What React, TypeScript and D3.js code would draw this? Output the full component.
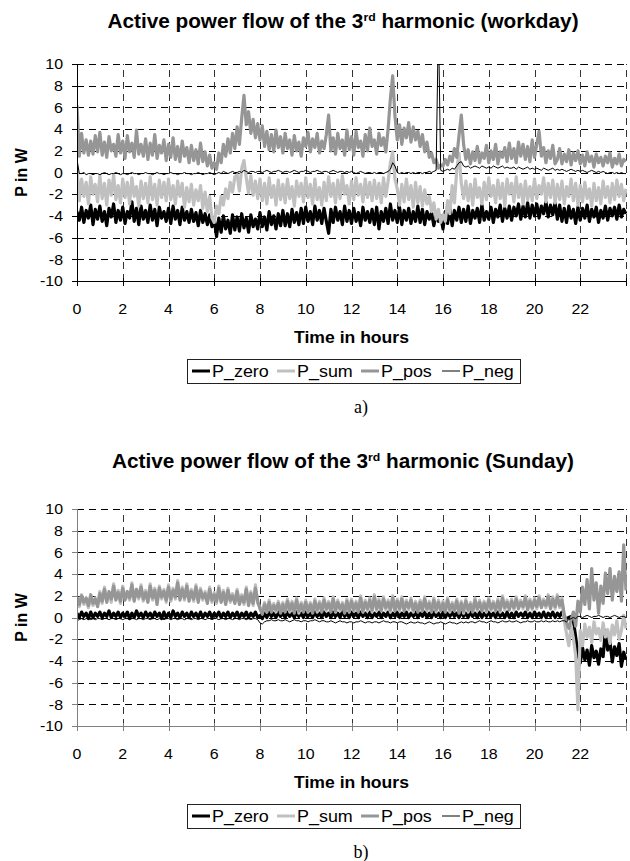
import * as d3 from 'd3';

// time grid, one reading every 6 minutes
const HOURS = d3.range(0, 241).map(i => i / 10);
const X_TICKS = [0, 2, 4, 6, 8, 10, 12, 14, 16, 18, 20, 22];
const X_GRID = [2, 4, 6, 8, 10, 12, 14, 16, 18, 20, 22, 24];
const Y_TICKS = [-10, -8, -6, -4, -2, 0, 2, 4, 6, 8, 10];
const SERIES_NAMES = ['P_zero', 'P_sum', 'P_pos', 'P_neg'];

// workday
const pZeroWorkday = [
  -3.6, -4.4, -3.2, -4.6, -3.5, -4.2, -3.0, -4.8, -3.4, -4.3,
  -3.1, -4.5, -3.6, -4.9, -3.3, -4.1, -2.9, -4.6, -3.5, -4.4,
  -3.2, -4.7, -3.6, -4.2, -2.7, -4.5, -3.3, -4.8, -3.1, -4.3,
  -3.5, -4.6, -3.0, -4.4, -3.4, -4.9, -3.2, -4.2, -3.6, -4.5,
  -3.3, -4.7, -3.1, -4.3, -3.5, -4.8, -3.2, -4.4, -3.6, -4.6,
  -3.4, -4.5, -3.7, -4.9, -3.5, -4.6, -3.8, -4.8, -3.9, -5.0,
  -4.3, -5.9, -4.2, -5.5, -4.0, -5.2, -4.4, -5.6, -3.9, -5.3,
  -4.1, -5.4, -3.8, -5.1, -4.2, -5.5, -3.9, -5.0, -4.3, -5.2,
  -3.7, -5.0, -4.1, -5.3, -3.6, -4.8, -4.0, -5.2, -3.8, -4.9,
  -3.5, -4.9, -3.8, -5.0, -3.4, -4.6, -3.7, -4.8, -3.3, -4.7,
  -3.2, -4.5, -3.6, -4.8, -3.1, -4.4, -3.5, -4.7, -3.3, -4.5,
  -5.6, -3.4, -4.6, -3.2, -4.4, -3.6, -4.8, -3.1, -4.5, -3.5,
  -4.7, -3.3, -4.5, -3.7, -4.9, -3.2, -4.4, -3.6, -4.6, -3.4,
  -4.8, -3.2, -5.2, -3.6, -4.5, -3.3, -4.7, -2.9, -4.4, -3.5,
  -4.6, -3.2, -4.8, -3.5, -4.4, -3.3, -4.7, -3.6, -4.5, -3.1,
  -4.6, -3.4, -4.8, -3.6, -4.3, -3.7, -4.9, -3.8, -4.5, -4.0,
  -5.2, -3.6, -4.7, -3.3, -4.9, -3.5, -4.4, -3.2, -4.6, -3.4,
  -4.5, -3.1, -4.7, -3.5, -4.2, -3.3, -4.6, -3.0, -4.4, -3.6,
  -4.3, -3.2, -4.6, -3.4, -4.1, -3.0, -4.5, -3.3, -4.2, -3.1,
  -4.4, -3.2, -4.0, -2.9, -4.3, -3.1, -4.1, -2.8, -4.2, -3.0,
  -4.0, -2.9, -4.2, -3.1, -3.8, -2.7, -4.1, -3.0, -3.9, -2.8,
  -4.3, -3.0, -4.5, -3.3, -4.6, -3.1, -4.2, -3.4, -4.7, -3.2,
  -4.4, -3.3, -4.2, -3.0, -4.5, -3.4, -4.1, -3.2, -4.6, -3.5,
  -4.2, -3.1, -4.4, -3.3, -4.0, -3.2, -4.3, -3.0, -4.1, -3.4,
  -3.8,
];
const pSumWorkday = [
  0.5, -2.6, -0.6, -2.2, -0.9, -2.9, -0.4, -2.0, -1.1, -2.7,
  -0.3, -2.4, -1.0, -3.0, -0.7, -2.1, -0.2, -2.5, -1.2, -2.8,
  -0.6, -2.3, -0.9, -2.9, -0.5, -2.2, -1.3, -3.1, -0.8, -2.4,
  -1.0, -2.8, -0.4, -2.5, -1.1, -3.0, -0.7, -2.3, -0.9, -2.6,
  -0.6, -2.5, -1.2, -2.9, -0.8, -2.2, -1.0, -3.2, -1.4, -2.7,
  -1.1, -3.0, -1.6, -2.6, -1.2, -3.3, -1.8, -3.6, -2.2, -4.2,
  -4.6, -3.1, -3.8, -2.2, -3.0, -1.5, -2.4, -0.9, -1.8, -0.4,
  -0.2, -1.7, 0.4, 1.1, -0.5, -1.9, -0.3, -2.1, -0.8, -2.4,
  -0.6, -2.6, -1.0, -2.9, -0.5, -2.3, -1.2, -3.0, -0.7, -2.5,
  -1.1, -2.8, -0.6, -2.4, -1.3, -3.1, -0.8, -2.2, -1.0, -2.7,
  -0.5, -2.3, -1.1, -2.9, -0.6, -2.5, -1.4, -3.0, -0.9, -2.6,
  -0.4, -2.2, -1.0, -2.8, -0.7, -2.4, -0.3, -2.0, -1.2, -2.9,
  -0.8, -2.5, -0.5, -2.1, -1.1, -2.7, -0.6, -2.3, -0.9, -2.6,
  -0.7, -2.4, -1.0, -2.8, -0.5, -2.2, -0.8, 0.9, 1.9, -0.6,
  -1.5, -3.0, -1.1, -2.7, -0.6, -2.5, -1.2, -3.2, -0.9, -2.8,
  -1.3, -3.1, -1.6, -2.9, -2.2, -3.6, -2.8, -4.3, -3.4, -4.6,
  -3.9, -4.5, -2.6, -3.8, -1.2, -2.8, 0.2, 1.8, -1.0, -2.4,
  -0.8, -2.6, -1.1, -3.0, -0.6, -2.3, -1.4, -2.9, -0.9, -2.5,
  -0.5, -2.2, -1.2, -2.8, -0.7, -2.4, -1.0, -3.1, -0.6, -2.0,
  -1.0, -2.7, -0.4, -2.3, -1.1, -2.9, -0.8, -2.5, -1.3, -2.6,
  -0.6, -2.4, -1.2, -2.0, -0.5, -2.7, -1.0, -2.3, -0.7, -2.8,
  -1.1, -2.5, -0.8, -2.9, -1.3, -2.2, -0.6, -2.6, -1.0, -3.0,
  -1.2, -2.7, -0.9, -2.4, -1.5, -3.1, -1.0, -2.6, -1.4, -2.9,
  -0.8, -2.3, -1.3, -2.8, -1.0, -2.5, -0.7, -2.2, -1.1, -2.6,
  -1.5,
];
const pPosWorkday = [
  6.2, 1.5, 3.6, 1.8, 3.0, 1.6, 2.9, 1.7, 3.4, 1.9,
  3.7, 1.6, 2.8, 1.4, 3.3, 2.0, 2.6, 1.5, 3.5, 1.8,
  2.9, 1.3, 3.4, 1.9, 2.7, 1.4, 3.9, 1.7, 2.6, 1.5,
  3.1, 1.2, 2.7, 1.6, 3.5, 1.3, 2.5, 1.8, 3.0, 1.1,
  2.6, 1.4, 3.2, 1.2, 2.4, 1.0, 2.9, 1.5, 2.3, 0.9,
  2.5, 1.1, 2.1, 0.8, 2.7, 1.0, 1.9, 0.6, 1.6, 0.4,
  0.9, 0.3, 1.8, 0.9, 2.6, 1.5, 3.1, 1.8, 3.6, 2.2,
  4.2, 2.6, 5.0, 7.1, 4.4, 5.6, 3.6, 4.9, 3.2, 4.5,
  3.0, 4.3, 2.4, 3.8, 2.1, 3.5, 1.9, 3.9, 2.3, 3.3,
  1.8, 3.6, 2.2, 3.0, 1.6, 3.4, 2.0, 2.8, 1.5, 3.2,
  2.4, 3.7, 1.9, 3.1, 2.3, 3.6, 1.8, 2.9, 2.2, 3.5,
  5.3, 2.0, 3.2, 1.7, 3.6, 2.2, 3.0, 1.6, 3.9, 2.1,
  3.3, 1.6, 3.8, 2.3, 2.9, 1.5, 3.5, 2.0, 4.1, 2.4,
  3.0, 1.7, 3.6, 2.5, 3.2, 1.9, 4.0, 6.8, 8.9, 5.2,
  3.0, 4.4, 2.6, 4.1, 3.2, 4.6, 2.8, 4.2, 3.0, 3.8,
  2.4, 3.5, 1.9, 2.8, 1.4, 1.8, 0.9, 1.2, 0.4, 0.7,
  0.6, 1.2, 0.7, 1.5, 1.0, 2.2, 1.4, 3.4, 5.3, 2.6,
  1.2, 2.1, 0.8, 1.9, 1.1, 2.4, 0.9, 1.8, 1.3, 2.5,
  0.9, 2.0, 1.2, 2.6, 0.8, 1.9, 1.4, 2.3, 1.0, 2.7,
  1.3, 2.2, 0.9, 2.8, 1.5, 2.6, 1.2, 2.4, 1.0, 3.0,
  1.4, 2.6, 3.8, 1.5, 2.3, 0.9, 2.0, 1.3, 2.5, 0.8,
  1.2, 2.2, 0.8, 1.7, 1.0, 2.1, 0.7, 1.8, 1.1, 2.0,
  0.8, 1.6, 0.6, 1.9, 1.0, 1.5, 0.5, 1.7, 0.9, 1.4,
  0.6, 1.5, 0.9, 1.8, 0.5, 1.3, 0.8, 1.7, 0.6, 1.2,
  1.0,
];
const pNegWorkday = [
  1.2, -0.1, -0.1, 0.0, -0.2, -0.1, -0.1, -0.2, -0.1, -0.1,
  -0.2, -0.1, 0.0, -0.1, -0.2, -0.1, -0.1, 0.0, -0.1, -0.2,
  -0.1, -0.1, -0.2, -0.1, 0.0, -0.1, -0.1, -0.2, -0.1, -0.1,
  0.0, -0.1, -0.1, -0.2, -0.1, 0.0, -0.1, -0.1, -0.2, -0.1,
  -0.1, 0.0, -0.1, -0.1, -0.2, -0.1, -0.1, 0.0, -0.1, -0.1,
  -0.2, -0.1, -0.1, 0.0, -0.1, -0.2, -0.1, -0.1, 0.0, -0.1,
  -0.2, -0.1, 0.0, -0.1, 0.1, 0.0, -0.1, 0.0, 0.1, 0.0,
  0.0, 0.1, 0.0, 0.2, 0.1, 0.0, 0.1, 0.1, 0.0, 0.1,
  0.1, 0.0, 0.1, 0.2, 0.1, 0.0, 0.1, 0.1, 0.2, 0.1,
  0.0, 0.1, 0.1, 0.0, 0.1, 0.2, 0.1, 0.0, 0.1, 0.1,
  0.2, 0.1, 0.0, 0.1, 0.1, 0.2, 0.1, 0.0, 0.1, 0.1,
  0.0, 0.1, 0.2, 0.1, 0.0, 0.1, 0.1, 0.0, 0.1, 0.0,
  0.1, 0.0, -0.1, 0.0, 0.1, 0.0, -0.1, 0.0, 0.0, -0.1,
  0.0, -0.1, 0.0, 0.0, -0.1, 0.0, 0.1, 0.3, 0.9, 0.6,
  0.0, -0.1, 0.0, -0.1, 0.0, 0.0, -0.1, 0.0, -0.1, 0.0,
  0.0, -0.1, 0.0, 0.0, 0.1, 0.0, 0.1, 0.2, 14.0, 0.2,
  0.1, 0.2, 0.3, 0.2, 0.4, 0.3, 0.6, 0.9, 1.0, 0.6,
  0.5, 0.6, 0.4, 0.5, 0.6, 0.5, 0.4, 0.6, 0.5, 0.4,
  0.5, 0.4, 0.6, 0.5, 0.4, 0.5, 0.6, 0.4, 0.5, 0.4,
  0.4, 0.5, 0.3, 0.5, 0.4, 0.3, 0.4, 0.5, 0.3, 0.4,
  0.3, 0.4, 0.3, 0.2, 0.4, 0.3, 0.2, 0.3, 0.4, 0.2,
  0.3, 0.2, 0.3, 0.2, 0.1, 0.2, 0.3, 0.2, 0.1, 0.2,
  0.1, 0.2, 0.1, 0.0, 0.1, 0.2, 0.1, 0.0, 0.1, 0.0,
  0.1, 0.0, -0.1, 0.0, 0.0, -0.1, 0.0, -0.1, 0.0, -0.1,
  -0.1,
];

// Sunday
const pZeroSunday = [
  0.4, 0.0, 0.5, 0.1, 0.4, -0.1, 0.5, 0.0, 0.4, 0.1,
  0.5, 0.0, 0.4, 0.1, 0.6, 0.0, 0.4, 0.1, 0.5, 0.0,
  0.4, 0.1, 0.5, -0.1, 0.4, 0.0, 0.6, 0.1, 0.4, 0.0,
  0.5, 0.1, 0.4, 0.0, 0.5, 0.1, 0.4, -0.1, 0.5, 0.0,
  0.4, 0.0, 0.6, 0.1, 0.4, 0.0, 0.5, 0.1, 0.4, 0.0,
  0.5, 0.1, 0.4, 0.0, 0.5, 0.0, 0.4, 0.1, 0.5, 0.0,
  0.4, 0.1, 0.5, 0.0, 0.4, 0.1, 0.5, 0.0, 0.4, 0.1,
  0.5, 0.0, 0.4, 0.1, 0.5, 0.0, 0.4, 0.1, 0.5, 0.0,
  0.2, -0.1, 0.4, 0.0, 0.5, 0.1, 0.4, 0.0, 0.5, 0.1,
  0.4, 0.0, 0.5, 0.1, 0.4, 0.0, 0.5, 0.1, 0.4, 0.0,
  0.5, 0.1, 0.4, 0.0, 0.5, 0.1, 0.4, 0.0, 0.5, 0.1,
  0.4, 0.0, 0.5, 0.1, 0.4, 0.0, 0.6, 0.1, 0.4, 0.0,
  0.5, 0.1, 0.4, 0.0, 0.5, 0.1, 0.4, 0.0, 0.5, 0.0,
  0.4, 0.1, 0.5, 0.0, 0.4, 0.1, 0.5, 0.0, 0.4, 0.1,
  0.5, 0.0, 0.4, 0.1, 0.5, 0.0, 0.4, 0.1, 0.5, 0.0,
  0.4, 0.1, 0.5, 0.0, 0.4, 0.0, 0.5, 0.1, 0.4, 0.0,
  0.5, 0.0, 0.4, 0.1, 0.5, 0.1, 0.4, 0.0, 0.5, 0.1,
  0.4, 0.0, 0.5, 0.1, 0.4, 0.0, 0.5, 0.0, 0.4, 0.1,
  0.5, 0.1, 0.4, 0.0, 0.5, 0.1, 0.4, 0.0, 0.5, 0.0,
  0.4, 0.0, 0.5, 0.1, 0.4, 0.1, 0.5, 0.0, 0.4, 0.0,
  0.5, 0.1, 0.4, 0.0, 0.5, 0.0, 0.4, 0.1, 0.5, 0.0,
  0.4, 0.1, 0.5, 0.0, -0.1, 0.0, 0.1, -0.3, -1.8, -3.4,
  -4.2, -2.8, -3.9, -3.0, -4.4, -2.6, -3.7, -3.1, -4.3, -2.9,
  -3.6, -1.2, -3.0, -2.2, -4.1, -2.7, -3.5, -2.4, -4.5, -3.2,
  -3.9,
];
const pSumSunday = [
  1.7, 1.0, 2.1, 1.2, 1.6, 0.9, 2.0, 1.1, 1.8, 1.2,
  2.4, 1.3, 2.8, 1.6, 2.2, 1.4, 3.1, 1.8, 2.5, 1.3,
  2.9, 1.8, 2.2, 1.6, 3.2, 1.7, 2.4, 1.7, 3.0, 1.5,
  2.5, 1.6, 3.1, 1.6, 2.7, 1.4, 2.9, 1.7, 2.6, 1.4,
  3.0, 1.5, 2.7, 1.7, 3.4, 1.8, 2.8, 1.6, 3.1, 1.7,
  2.6, 1.5, 3.0, 1.6, 2.7, 1.6, 2.4, 1.5, 2.8, 1.4,
  2.3, 1.3, 2.9, 1.6, 2.5, 1.4, 2.7, 1.4, 2.2, 1.5,
  2.6, 1.4, 2.1, 1.2, 2.8, 1.3, 2.4, 1.1, 3.0, 1.3,
  1.0, 0.4, 1.4, 0.5, 1.6, 0.6, 1.3, 0.5, 1.5, 0.6,
  1.4, 0.6, 1.7, 0.5, 1.5, 0.6, 1.8, 0.4, 1.4, 0.7,
  1.6, 0.5, 1.4, 0.6, 1.7, 0.5, 1.5, 0.7, 1.8, 0.6,
  1.5, 0.7, 1.9, 0.5, 1.6, 0.6, 1.4, 0.6, 1.7, 0.5,
  1.7, 0.6, 1.5, 0.7, 2.0, 0.5, 1.6, 0.6, 1.8, 0.5,
  2.1, 0.6, 1.7, 0.8, 1.9, 0.7, 1.6, 0.5, 2.0, 0.8,
  1.7, 0.6, 1.9, 0.8, 1.6, 0.7, 1.8, 0.5, 1.5, 0.7,
  1.6, 0.8, 1.9, 0.6, 1.5, 0.7, 1.8, 0.5, 1.6, 0.8,
  1.5, 0.7, 1.8, 0.5, 1.4, 0.8, 1.7, 0.6, 1.5, 0.4,
  1.7, 0.5, 1.4, 0.7, 1.8, 0.6, 1.6, 0.8, 1.5, 0.5,
  1.8, 0.6, 1.5, 0.8, 1.7, 0.5, 2.0, 0.7, 1.6, 0.9,
  1.7, 0.7, 1.9, 1.0, 1.6, 0.8, 2.0, 0.9, 1.7, 0.7,
  1.8, 0.8, 2.0, 1.1, 1.7, 0.9, 2.1, 1.0, 1.9, 0.8,
  2.1, 0.9, 1.8, -0.3, -1.5, -2.6, -0.8, -1.9, -3.5, -8.5,
  -1.2, -2.6, -0.6, -1.8, -0.9, -2.3, -0.4, -1.5, -1.0, -2.1,
  -0.5, -1.8, -1.1, -2.4, -0.7, -1.6, -0.3, -2.0, -1.2, 0.2,
  -1.0,
];
const pPosSunday = [
  1.9, 1.2, 2.0, 1.4, 1.8, 1.1, 2.1, 1.3, 1.7, 1.0,
  2.2, 1.5, 2.6, 1.4, 2.4, 1.7, 2.9, 1.6, 2.3, 1.5,
  2.7, 1.6, 2.4, 1.8, 3.0, 1.5, 2.6, 1.9, 2.8, 1.7,
  2.3, 1.4, 2.9, 1.8, 2.5, 1.2, 2.7, 1.9, 2.4, 1.6,
  2.8, 1.7, 2.5, 1.9, 3.2, 1.6, 2.6, 1.8, 2.9, 1.5,
  2.4, 1.7, 2.8, 1.4, 2.5, 1.8, 2.2, 1.3, 2.6, 1.6,
  2.1, 1.5, 2.7, 1.4, 2.3, 1.2, 2.5, 1.6, 2.0, 1.3,
  2.4, 1.2, 1.9, 1.4, 2.6, 1.1, 2.2, 1.3, 2.7, 1.5,
  0.8, 0.3, 1.2, 0.6, 1.4, 0.5, 1.1, 0.7, 1.3, 0.4,
  1.2, 0.5, 1.5, 0.7, 1.3, 0.4, 1.6, 0.6, 1.2, 0.5,
  1.4, 0.6, 1.2, 0.4, 1.5, 0.7, 1.3, 0.5, 1.6, 0.8,
  1.3, 0.5, 1.7, 0.6, 1.4, 0.8, 1.2, 0.4, 1.5, 0.6,
  1.5, 0.7, 1.3, 0.5, 1.8, 0.6, 1.4, 0.8, 1.6, 0.7,
  1.9, 0.8, 1.5, 0.6, 1.7, 0.9, 1.4, 0.7, 1.8, 0.6,
  1.5, 0.8, 1.7, 0.6, 1.4, 0.9, 1.6, 0.7, 1.3, 0.5,
  1.4, 0.6, 1.7, 0.8, 1.3, 0.5, 1.6, 0.7, 1.4, 0.6,
  1.3, 0.5, 1.6, 0.7, 1.2, 0.6, 1.5, 0.4, 1.3, 0.6,
  1.5, 0.7, 1.2, 0.5, 1.6, 0.8, 1.4, 0.6, 1.3, 0.7,
  1.6, 0.8, 1.3, 0.6, 1.5, 0.7, 1.8, 0.9, 1.4, 0.7,
  1.5, 0.9, 1.7, 0.8, 1.4, 1.0, 1.8, 0.7, 1.5, 0.9,
  1.6, 1.0, 1.8, 0.9, 1.5, 1.1, 1.9, 0.8, 1.7, 1.0,
  1.9, 1.1, 1.6, 0.3, -0.5, -1.0, -0.2, 0.5, -0.8, 1.5,
  0.5, 2.8, 1.2, 3.5, 0.8, 4.5, 1.6, 3.2, 0.4, 2.9,
  1.3, 4.1, 2.2, 4.5, 1.6, 3.8, 2.4, 4.2, 1.5, 6.7,
  2.5,
];
const pNegSunday = [
  -0.3, -0.2, -0.1, -0.2, -0.1, -0.1, -0.2, -0.1, -0.2, -0.1,
  -0.1, -0.2, -0.1, -0.1, -0.2, -0.1, -0.1, -0.2, -0.1, -0.1,
  -0.2, -0.1, -0.1, -0.2, -0.1, -0.1, -0.2, -0.1, -0.1, -0.2,
  -0.1, -0.1, -0.2, -0.1, -0.1, -0.2, -0.1, -0.1, -0.2, -0.1,
  -0.1, -0.2, -0.1, -0.1, -0.2, -0.1, -0.1, -0.2, -0.1, -0.1,
  -0.2, -0.1, -0.1, -0.2, -0.1, -0.1, -0.2, -0.1, -0.1, -0.2,
  -0.1, -0.1, -0.2, -0.1, -0.1, -0.2, -0.1, -0.1, -0.2, -0.1,
  -0.1, -0.2, -0.1, -0.1, -0.2, -0.1, -0.2, -0.1, -0.1, -0.2,
  -0.5, -0.6, -0.4, -0.3, -0.3, -0.2, -0.3, -0.3, -0.2, -0.3,
  -0.3, -0.2, -0.3, -0.4, -0.3, -0.2, -0.3, -0.3, -0.4, -0.3,
  -0.3, -0.4, -0.3, -0.3, -0.2, -0.3, -0.4, -0.3, -0.3, -0.4,
  -0.4, -0.3, -0.4, -0.5, -0.4, -0.3, -0.4, -0.4, -0.5, -0.4,
  -0.4, -0.5, -0.4, -0.4, -0.3, -0.4, -0.5, -0.4, -0.4, -0.5,
  -0.4, -0.4, -0.5, -0.4, -0.3, -0.4, -0.4, -0.5, -0.4, -0.4,
  -0.5, -0.4, -0.4, -0.5, -0.6, -0.5, -0.4, -0.5, -0.5, -0.4,
  -0.5, -0.5, -0.6, -0.5, -0.4, -0.5, -0.6, -0.5, -0.5, -0.4,
  -0.5, -0.6, -0.5, -0.4, -0.5, -0.5, -0.6, -0.5, -0.4, -0.5,
  -0.4, -0.5, -0.4, -0.4, -0.5, -0.4, -0.3, -0.4, -0.4, -0.5,
  -0.4, -0.3, -0.4, -0.4, -0.5, -0.4, -0.3, -0.4, -0.4, -0.3,
  -0.4, -0.4, -0.3, -0.4, -0.5, -0.4, -0.4, -0.3, -0.4, -0.4,
  -0.3, -0.4, -0.4, -0.3, -0.4, -0.3, -0.4, -0.4, -0.3, -0.4,
  -0.3, -0.4, -0.3, -0.3, -0.4, -0.2, -0.1, 0.0, -0.1, 0.1,
  0.1, 0.0, 0.1, 0.2, 0.1, 0.0, 0.1, 0.1, 0.2, 0.1,
  0.0, 0.1, 0.1, 0.0, 0.1, 0.2, 0.1, 0.0, 0.1, 0.1,
  0.0,
];

const COLORS = ['#000000', '#c0c0c0', '#969696', '#000000'];
const WIDTHS = [3.2, 3.2, 3.2, 1];

const SANS = '"Liberation Sans", Arial, sans-serif';
const SERIF = '"Liberation Serif", "Times New Roman", serif';
const SX = 1.1; // the original text is a bit wider than Arial
const LEFT = 77;
const RIGHT = 626;
const PLOT_H = 217;
const LEGEND_X = 187;
const LEGEND_ITEM_X = [5, 90, 174, 255];

function SText({ x, y, size, weight = 'normal', anchor = 'start', family = SANS, sx = SX, children }: any) {
  return (
    <text transform={`translate(${x},${y}) scale(${sx},1)`} fontSize={size} fontWeight={weight}
      textAnchor={anchor} fontFamily={family} fill="#000">{children}</text>
  );
}

function Panel({ top, titleY, day, caption, series, axisColor, id }: any) {
  const x = d3.scaleLinear().domain([0, 24]).range([LEFT, RIGHT]);
  const y = d3.scaleLinear().domain([-10, 10]).range([top + PLOT_H, top]);
  const line = d3.line<number>().x((_, i) => x(HOURS[i])).y(d => y(d));
  const bottom = y(-10);
  const cx = (LEFT + RIGHT) / 2;
  const legendTop = bottom + 78;

  return (
    <g>
      {/* title */}
      <SText x={343} y={titleY} size={19.5} weight="bold" anchor="middle" sx={1.065}>
        <tspan>Active power flow of the 3</tspan>
        <tspan fontSize={11.5} dy={-7}>rd</tspan>
        <tspan dy={7}> harmonic ({day})</tspan>
      </SText>

      {/* grid */}
      <g stroke="#000" strokeWidth={1} strokeDasharray="7,5" shapeRendering="crispEdges">
        {Y_TICKS.filter(v => v > -10).map(v => (
          <line key={'h' + v} x1={LEFT} x2={RIGHT} y1={Math.round(y(v)) + 0.5} y2={Math.round(y(v)) + 0.5} />
        ))}
        {X_GRID.map(v => (
          <line key={'v' + v} x1={Math.round(x(v)) + 0.5} x2={Math.round(x(v)) + 0.5} y1={bottom} y2={top} stroke="#333" />
        ))}
      </g>

      {/* series */}
      <clipPath id={id}>
        <rect x={LEFT} y={top} width={RIGHT - LEFT + 1} height={PLOT_H} />
      </clipPath>
      <g clipPath={`url(#${id})`} fill="none" strokeLinejoin="round">
        {series.map((s: number[], k: number) => (
          <path key={k} d={line(s) || ''} stroke={COLORS[k]} strokeWidth={WIDTHS[k]} />
        ))}
      </g>

      {/* axes */}
      <g stroke={axisColor} strokeWidth={1} shapeRendering="crispEdges">
        <line x1={LEFT + 0.5} x2={LEFT + 0.5} y1={top} y2={bottom + 0.5} />
        <line x1={LEFT} x2={RIGHT + 1} y1={Math.round(bottom) + 0.5} y2={Math.round(bottom) + 0.5} />
        {Y_TICKS.map(v => (
          <line key={'yt' + v} x1={LEFT - 5} x2={LEFT} y1={Math.round(y(v)) + 0.5} y2={Math.round(y(v)) + 0.5} />
        ))}
        {[...X_TICKS, 24].map(v => (
          <line key={'xt' + v} x1={Math.round(x(v)) + 0.5} x2={Math.round(x(v)) + 0.5} y1={bottom - 3} y2={bottom + 5} />
        ))}
      </g>

      {/* tick labels */}
      {Y_TICKS.map(v => (
        <SText key={'yl' + v} x={63} y={y(v) + 5.2} size={14.5} anchor="end">{v}</SText>
      ))}
      {X_TICKS.map(v => (
        <SText key={'xl' + v} x={x(v)} y={bottom + 33} size={14.5} anchor="middle">{v}</SText>
      ))}

      {/* axis titles */}
      <SText x={cx} y={bottom + 62} size={16} weight="bold" anchor="middle">Time in hours</SText>
      <text transform={`translate(27,${top + PLOT_H / 2}) rotate(-90)`} fontSize={16} fontWeight="bold"
        fontFamily={SANS} textAnchor="middle">P in W</text>

      {/* legend */}
      <rect x={LEGEND_X + 0.5} y={Math.round(legendTop) + 0.5} width={333} height={24} fill="#fff" stroke="#222" shapeRendering="crispEdges" />
      {SERIES_NAMES.map((name, k) => {
        const lx = LEGEND_X + LEGEND_ITEM_X[k];
        const ly = legendTop + 12;
        return (
          <g key={name}>
            <line x1={lx} x2={lx + 18} y1={ly} y2={ly} stroke={COLORS[k]} strokeWidth={k === 3 ? 1 : 3} />
            <SText x={lx + 20} y={ly + 6} size={16.3}>{name}</SText>
          </g>
        );
      })}

      {/* caption */}
      <text x={361} y={legendTop + 54} fontSize={18} fontFamily={SERIF} textAnchor="middle">{caption}</text>
    </g>
  );
}

export default function App() {
  return (
    <svg width={630} height={861} style={{ position: 'absolute', left: 0, top: 0, background: '#fff' }}>
      <rect width={630} height={861} fill="#fff" />
      <Panel top={64} titleY={27.5} day="workday" caption="a)" id="clipA" axisColor="#000"
        series={[pZeroWorkday, pSumWorkday, pPosWorkday, pNegWorkday]} />
      <Panel top={509} titleY={468} day="Sunday" caption="b)" id="clipB" axisColor="#808080"
        series={[pZeroSunday, pSumSunday, pPosSunday, pNegSunday]} />
    </svg>
  );
}
